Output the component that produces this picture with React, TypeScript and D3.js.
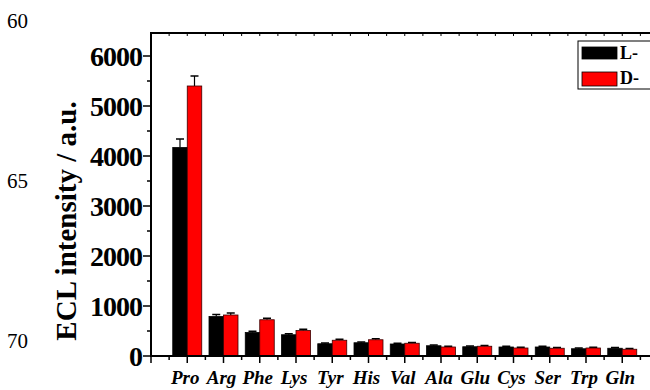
import React from "react";
import * as d3 from "d3";

// Amino acids (categories)
const categories = ["Pro", "Arg", "Phe", "Lys", "Tyr", "His", "Val", "Ala", "Glu", "Cys", "Ser", "Trp", "Gln"];

// ECL intensity for the L- and D- enantiomers
const lValues = [4170, 790, 470, 425, 245, 265, 240, 205, 185, 180, 180, 145, 155];
const dValues = [5400, 820, 725, 510, 315, 325, 255, 180, 195, 160, 155, 160, 135];

// error bars
const lErrors = [170, 40, 25, 20, 15, 15, 15, 15, 15, 15, 15, 15, 15];
const dErrors = [200, 40, 30, 25, 20, 20, 15, 15, 15, 15, 15, 15, 15];

const yTicks = [0, 1000, 2000, 3000, 4000, 5000, 6000];
const seriesNames = ["L-", "D-"];
const lineNumbers = ["60", "65", "70"];

const serif = "'Liberation Serif', 'Times New Roman', serif";

export default function App() {
  // Dimensions for the chart
  const width = 650,
    height = 390,
    margin = { top: 33, left: 151, bottom: 34 };

  const x = d3.scaleLinear().domain([0, 14]).range([margin.left, margin.left + 36.25 * 14]);
  const y = d3.scaleLinear().domain([0, 6460]).range([height - margin.bottom, margin.top]);

  const barW = (x(1) - x(0)) * 0.4;
  const colors = ["#000000", "#ff0000"];

  const xTicks = d3.range(0, 14.01, 0.5);
  const yMinor = d3.range(500, 6460, 1000);

  const bars = (vals, errs, s) =>
    vals.map((v, i) => {
      const cx = x(i + 1);
      const bx = s === 0 ? cx - barW : cx;
      const top = y(v);
      const errTop = y(v + errs[i]);
      const mid = bx + barW / 2;
      return (
        <g key={s + "-" + i}>
          <line x1={mid} x2={mid} y1={top} y2={errTop} stroke="#000" strokeWidth={1.2} />
          <line x1={mid - 4} x2={mid + 4} y1={errTop} y2={errTop} stroke="#000" strokeWidth={1.5} />
          <rect
            x={bx}
            y={top}
            width={barW}
            height={y(0) - top}
            fill={colors[s]}
            stroke={s === 0 ? "#000" : "#3a0000"}
            strokeWidth={0.8}
          />
        </g>
      );
    });

  return (
    <svg width={width} height={height} style={{ position: "absolute", left: 0, top: 0 }}>
      <rect width={width} height={height} fill="#fff" />

      {/* line numbers in the margin */}
      {lineNumbers.map((t, i) => (
        <text key={t} x={7} y={28 + i * 160} fontFamily={serif} fontSize={21}>
          {t}
        </text>
      ))}

      {bars(lValues, lErrors, 0)}
      {bars(dValues, dErrors, 1)}

      {/* top frame */}
      <line x1={x(0)} x2={width} y1={y.range()[1]} y2={y.range()[1]} stroke="#000" strokeWidth={2} />
      {xTicks.map((t) => (
        <line key={"tt" + t} x1={x(t)} x2={x(t)} y1={y.range()[1]} y2={y.range()[1] + 3} stroke="#000" strokeWidth={1} />
      ))}

      {/* x axis */}
      <line x1={x(0)} x2={width} y1={y(0)} y2={y(0)} stroke="#000" strokeWidth={2} />
      {xTicks.map((t) => (
        <line
          key={"xt" + t}
          x1={x(t)}
          x2={x(t)}
          y1={y(0)}
          y2={y(0) + (Number.isInteger(t) ? 7 : 4)}
          stroke="#000"
          strokeWidth={1.5}
        />
      ))}
      {categories.map((c, i) => (
        <text
          key={c}
          x={x(i + 1) - 2}
          y={384}
          textAnchor="middle"
          fontFamily={serif}
          fontSize={19}
          fontWeight="bold"
          fontStyle="italic"
        >
          {c}
        </text>
      ))}

      {/* y axis */}
      <line x1={x(0)} x2={x(0)} y1={y(0) + 1} y2={y.range()[1] - 1} stroke="#000" strokeWidth={2} />
      {yTicks.map((t) => (
        <g key={"yt" + t}>
          <line x1={x(0) - 8} x2={x(0)} y1={y(t)} y2={y(t)} stroke="#000" strokeWidth={1.5} />
          <text
            x={x(0) - 9}
            y={y(t)}
            dy="0.35em"
            textAnchor="end"
            fontFamily={serif}
            fontSize={28}
            fontWeight="bold"
            letterSpacing={-1}
          >
            {t}
          </text>
        </g>
      ))}
      {yMinor.map((t) => (
        <line key={"ym" + t} x1={x(0) - 4} x2={x(0)} y1={y(t)} y2={y(t)} stroke="#000" strokeWidth={1.5} />
      ))}

      <text
        transform={`translate(76, 221) rotate(-90)`}
        textAnchor="middle"
        fontFamily={serif}
        fontSize={29}
        fontWeight="bold"
      >
        ECL intensity / a.u.
      </text>

      {/* legend */}
      <rect x={578} y={41} width={80} height={48} fill="#fff" stroke="#000" strokeWidth={1} />
      {seriesNames.map((n, i) => (
        <g key={n} transform={`translate(582, ${47 + i * 25})`}>
          <rect width={35} height={i === 0 ? 12 : 14} fill={colors[i]} stroke="#000" strokeWidth={0.8} />
          <text x={38} y={12} fontFamily={serif} fontSize={18} fontWeight="bold">
            {n}
          </text>
        </g>
      ))}
    </svg>
  );
}
